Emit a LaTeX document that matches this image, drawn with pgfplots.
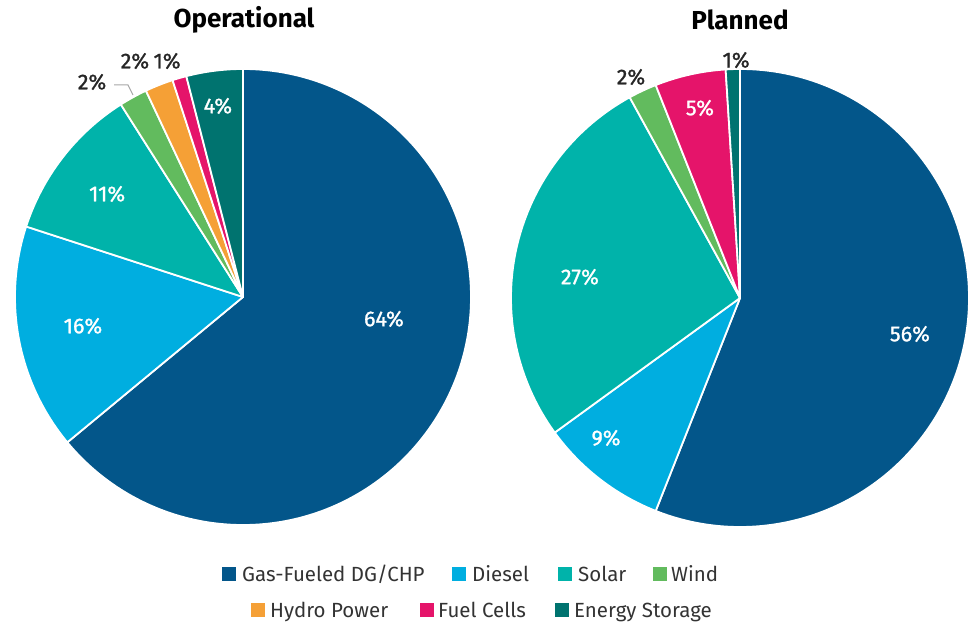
\documentclass[border=0pt]{standalone}
\usepackage{pgfplots}
\pgfplotsset{compat=1.18}
\usepackage{pgfplotstable}
\usepackage{fontspec}
\setmainfont{Fira Sans}
\newfontfamily\labfont[FakeBold=1.2]{Fira Sans}
\definecolor{cgas}{HTML}{03568A}
\definecolor{cdiesel}{HTML}{00AEE0}
\definecolor{csolar}{HTML}{00B3AA}
\definecolor{cwind}{HTML}{62BB5E}
\definecolor{chydro}{HTML}{F5A036}
\definecolor{cfuel}{HTML}{E5146A}
\definecolor{cstorage}{HTML}{00736F}
\definecolor{ctext}{HTML}{333333}

\pgfplotstableread{
share color
64 cgas
16 cdiesel
11 csolar
2 cwind
2 chydro
1 cfuel
4 cstorage
}\operational

\pgfplotstableread{
share color
56 cgas
9 cdiesel
27 csolar
2 cwind
5 cfuel
1 cstorage
}\planned

\newcommand{\drawpie}[2]{%
  \pgfplotstablegetrowsof{#1}%
  \pgfmathtruncatemacro\nrows{\pgfplotsretval-1}%
  \gdef\cum{0}%
  \foreach \i in {0,...,\nrows}{%
    \pgfplotstablegetelem{\i}{share}\of{#1}\let\v\pgfplotsretval
    \pgfplotstablegetelem{\i}{color}\of{#1}\let\c\pgfplotsretval
    \pgfmathsetmacro\a{90-3.6*\cum}%
    \pgfmathsetmacro\b{90-3.6*(\cum+\v)}%
    \edef\temp{\noexpand\fill[\c, draw=white, line width=1.8pt, line join=round] (axis cs:0,0) -- ++(\a:#2) arc[start angle=\a, end angle=\b, radius=#2] -- cycle;}%
    \temp
    \pgfmathsetmacro\newcum{\cum+\v}%
    \xdef\cum{\newcum}%
  }%
}

\pgfplotsset{pieaxis/.style={hide axis, scale only axis, clip=false,
  xmin=-1, xmax=1, ymin=-1, ymax=1, anchor=center}}

\tikzset{inlab/.style={white, font=\labfont\fontsize{21.5}{21.5}\selectfont},
         outlab/.style={black!85, font=\labfont\fontsize{21.5}{21.5}\selectfont},
         legtxt/.style={ctext, anchor=base west, inner sep=0pt, font=\fontsize{20.5}{20.5}\selectfont}}

\begin{document}
\begin{tikzpicture}
\path[use as bounding box] (0pt,0pt) rectangle (976pt,624pt);

\node[font=\bfseries\fontsize{26}{26}\selectfont] at (244pt,604pt) {Operational};
\node[font=\bfseries\fontsize{26}{26}\selectfont] at (740pt,604pt) {Planned};

\begin{axis}[pieaxis, width=456pt, height=456pt, at={(243pt,327pt)}]
  \drawpie{\operational}{228pt}
  \node[inlab] at (axis cs:0.618,-0.096) {64\%};
  \node[inlab] at (axis cs:-0.702,-0.127) {16\%};
  \node[inlab] at (axis cs:-0.596,0.452) {11\%};
  \node[inlab] at (axis cs:-0.110,0.838) {4\%};
  \node[outlab] at (axis cs:-0.662,0.943) {2\%};
  \node[outlab] at (axis cs:-0.474,1.035) {2\%};
  \node[outlab] at (axis cs:-0.333,1.035) {1\%};
\end{axis}

\draw[gray!70, line width=1pt] (114pt,539pt) -- (128pt,539pt) -- (133pt,529pt);

\begin{axis}[pieaxis, width=458pt, height=458pt, at={(740pt,326pt)}]
  \drawpie{\planned}{229pt}
  \node[inlab] at (axis cs:0.742,-0.157) {56\%};
  \node[inlab] at (axis cs:-0.585,-0.611) {9\%};
  \node[inlab] at (axis cs:-0.699,0.092) {27\%};
  \node[inlab] at (axis cs:-0.175,0.830) {5\%};
  \node[outlab] at (axis cs:-0.476,0.965) {2\%};
  \node[outlab] at (axis cs:-0.017,1.039) {1\%};
\end{axis}

% legend row 1
\fill[cgas] (222pt,43pt) rectangle ++(14pt,14pt);
\node[legtxt] at (242pt,43pt) {Gas-Fueled DG/CHP};
\fill[cdiesel] (452pt,43pt) rectangle ++(14pt,14pt);
\node[legtxt] at (472pt,43pt) {Diesel};
\fill[csolar] (558pt,43pt) rectangle ++(14pt,14pt);
\node[legtxt] at (578pt,43pt) {Solar};
\fill[cwind] (653pt,43pt) rectangle ++(14pt,14pt);
\node[legtxt] at (671pt,43pt) {Wind};
% legend row 2
\fill[chydro] (251pt,7pt) rectangle ++(14pt,14pt);
\node[legtxt] at (270pt,7pt) {Hydro Power};
\fill[cfuel] (420pt,7pt) rectangle ++(14pt,14pt);
\node[legtxt] at (438pt,7pt) {Fuel Cells};
\fill[cstorage] (555pt,7pt) rectangle ++(14pt,14pt);
\node[legtxt] at (574pt,7pt) {Energy Storage};
\end{tikzpicture}
\end{document}
